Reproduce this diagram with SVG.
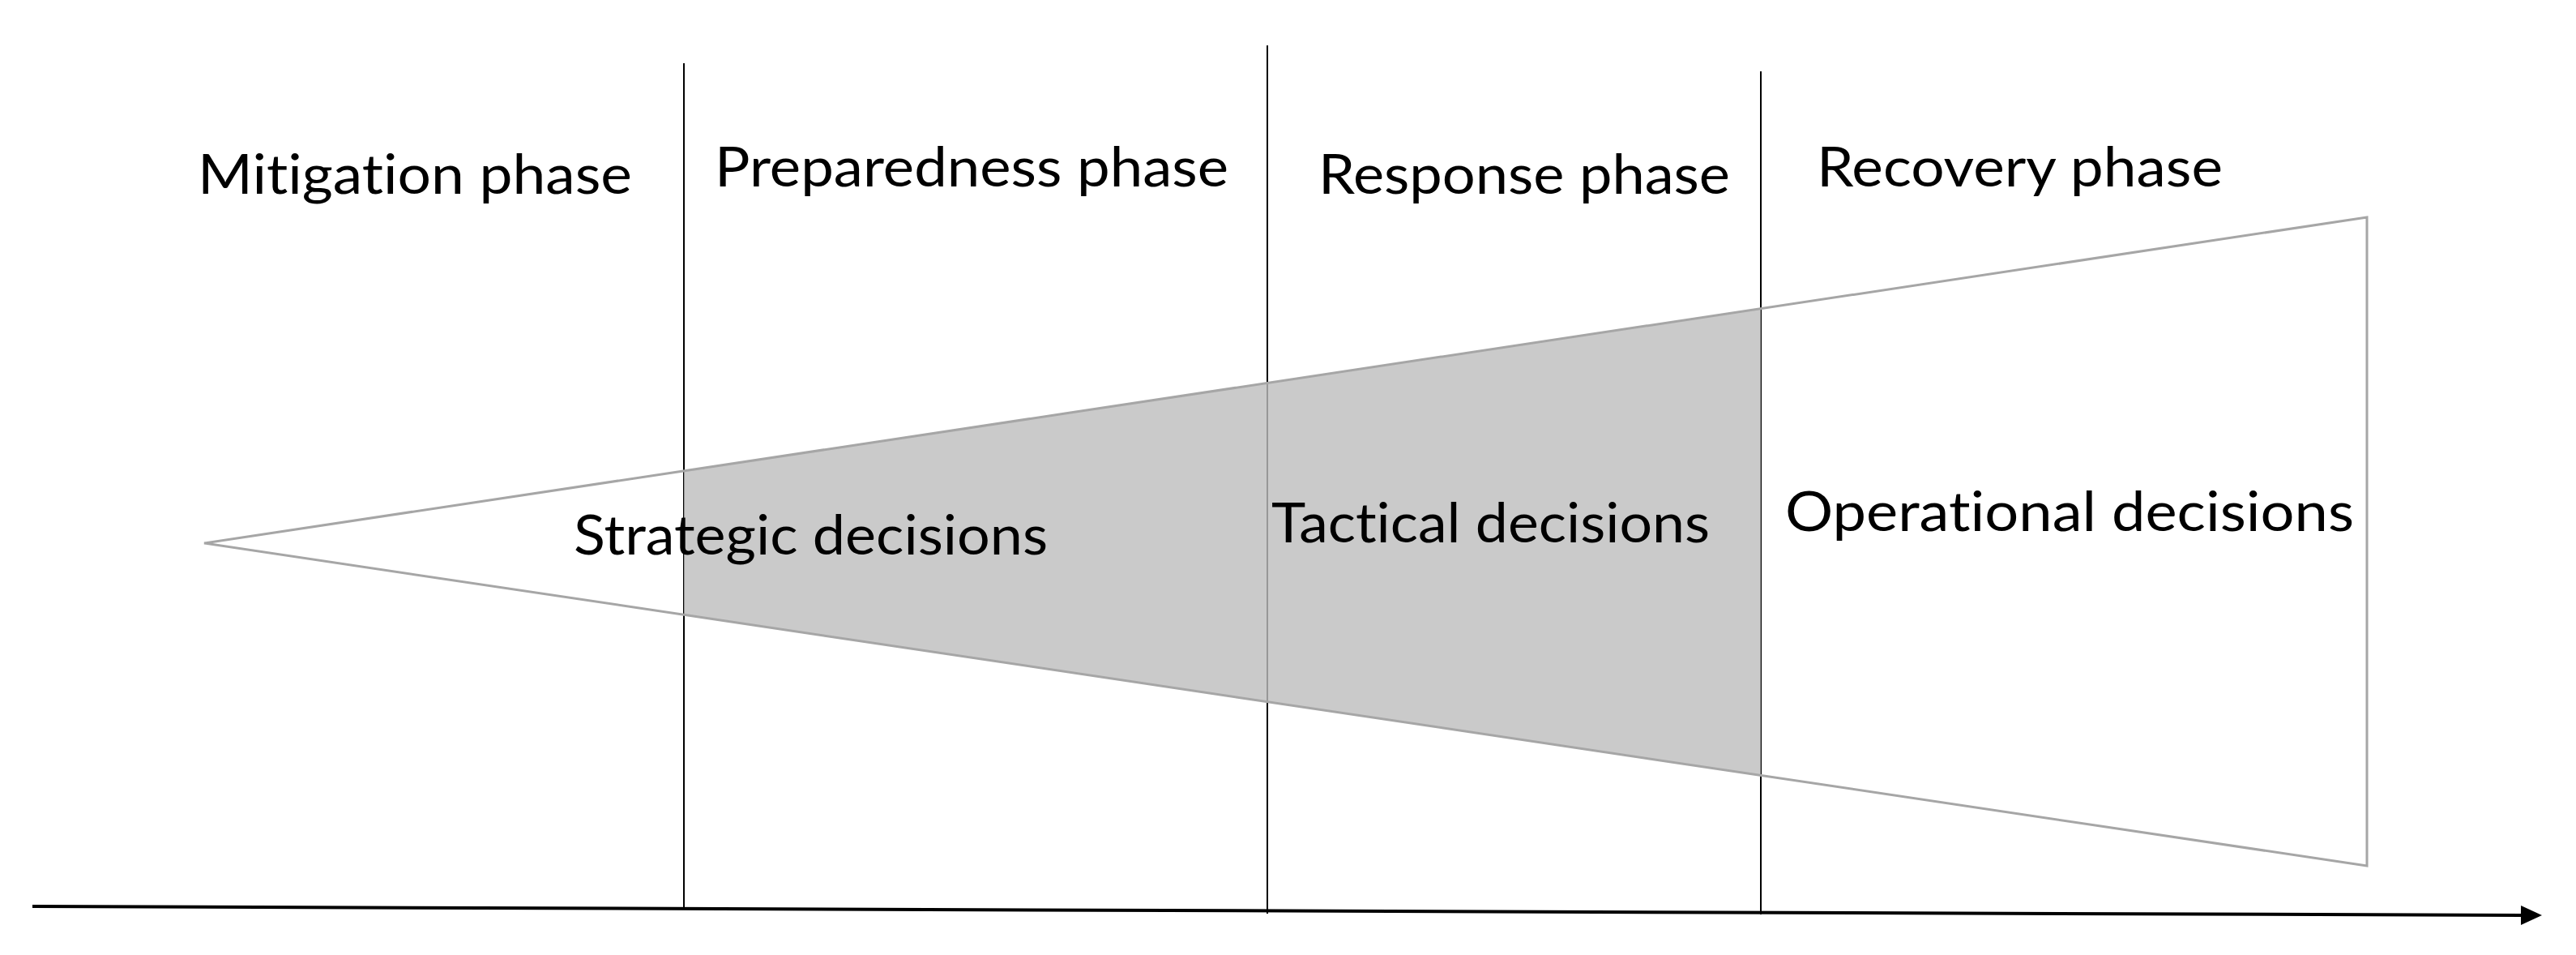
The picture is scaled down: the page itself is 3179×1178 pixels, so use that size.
<svg xmlns="http://www.w3.org/2000/svg" width="3179" height="1178" viewBox="0 0 3179 1178">
<style>
.lbl{font-family:Lato,"Liberation Sans",Arial,sans-serif;font-size:67px;fill:#000;font-variant-ligatures:none;font-feature-settings:"liga" 0}
.div{stroke:#000;stroke-width:2;fill:none}
.tri{stroke:#a6a6a6;stroke-width:3;fill:none;stroke-linejoin:miter}
</style>
<defs>
<marker id="arr" markerWidth="6.5" markerHeight="6" refX="0" refY="3" orient="auto" markerUnits="strokeWidth" viewBox="0 0 6.5 6">
<path d="M0,0 L6.5,3 L0,6 Z" fill="#000"/>
</marker>
</defs>
<rect width="3179" height="1178" fill="#fff"/>
<g id="funnel-base">
<polygon points="252,670 2921,268 2921,1068" fill="#fff"/>
</g>
<g id="connectors">
<line class="div" x1="844" y1="78" x2="844" y2="1120"/>
<line class="div" x1="1564" y1="56" x2="1564" y2="1127"/>
<line class="div" x1="2173" y1="88" x2="2173" y2="1128"/>
<line x1="40" y1="1118" x2="3111" y2="1129" stroke="#000" stroke-width="4" marker-end="url(#arr)"/>
</g>
<g id="shaded-band">
<polygon points="844,581.3 2173,380.9 2173,956.2 844,757.8" fill="#bdbdbd" fill-opacity="0.8"/>
</g>
<g id="funnel">
<polygon class="tri" points="252,670 2921,268 2921,1068"/>
</g>
<g id="phase-mitigation"><text class="lbl" x="244" y="239" textLength="536" lengthAdjust="spacingAndGlyphs">Mitigation phase</text></g>
<g id="phase-preparedness"><text class="lbl" x="882" y="230" textLength="634" lengthAdjust="spacingAndGlyphs">Preparedness phase</text></g>
<g id="phase-response"><text class="lbl" x="1627" y="239" textLength="508" lengthAdjust="spacingAndGlyphs">Response phase</text></g>
<g id="phase-recovery"><text class="lbl" x="2242" y="230" textLength="501" lengthAdjust="spacingAndGlyphs">Recovery phase</text></g>
<g id="strategic"><text class="lbl" x="708" y="684" textLength="585" lengthAdjust="spacingAndGlyphs">Strategic decisions</text></g>
<g id="tactical"><text class="lbl" x="1569" y="669" textLength="541" lengthAdjust="spacingAndGlyphs">Tactical decisions</text></g>
<g id="operational"><text class="lbl" x="2203" y="655" textLength="702" lengthAdjust="spacingAndGlyphs">Operational decisions</text></g>
</svg>
